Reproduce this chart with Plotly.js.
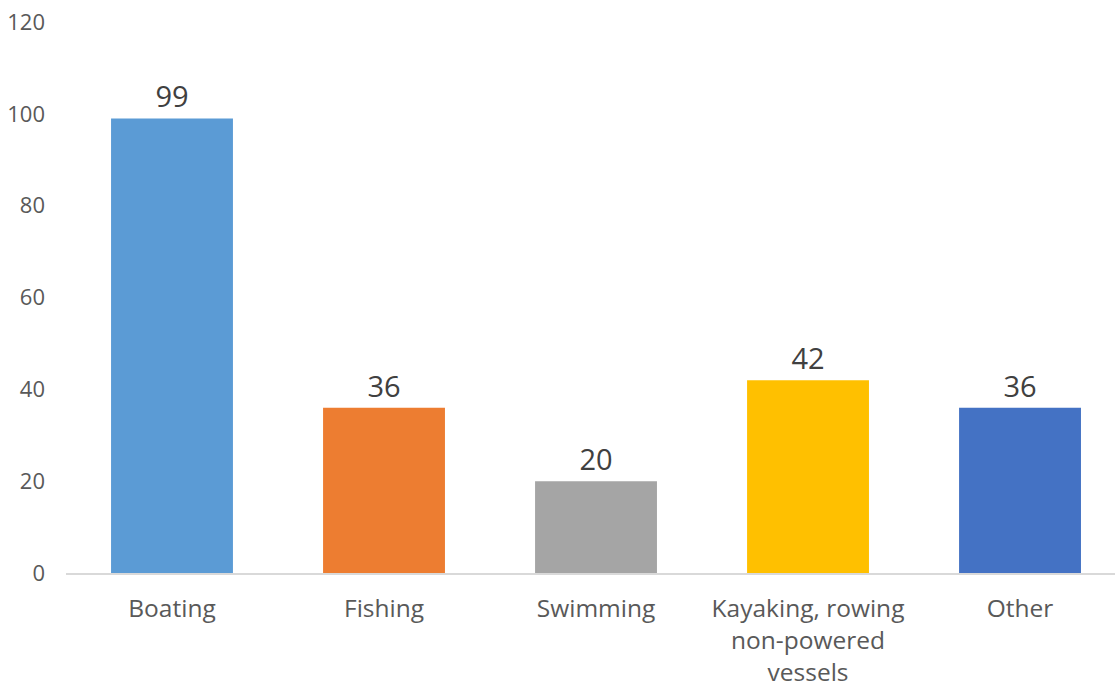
<!DOCTYPE html>
<html>
<head>
<meta charset="utf-8">
<script src="https://cdn.plot.ly/plotly-3.0.1.min.js"></script>
<style>html,body{margin:0;padding:0;background:#fff;overflow:hidden}</style>
</head>
<body>
<div id="chart" style="width:1115px;height:687px"></div>
<script>
const categories = ["Boating", "Fishing", "Swimming", "Kayaking, rowing<br>non-powered<br>vessels", "Other"];
const values = [99, 36, 20, 42, 36];
const colors = ["#5B9BD5", "#ED7D31", "#A5A5A5", "#FFC000", "#4472C4"];
const yTicks = [0, 20, 40, 60, 80, 100, 120];

const trace = {
  type: "bar",
  x: categories,
  y: values,
  marker: {color: colors},
  text: values.map(String),
  textposition: "outside",
  textfont: {family: "Open Sans", size: 29, color: "#404040"},
  cliponaxis: false,
  hoverinfo: "skip"
};

const layout = {
  width: 1115, height: 687,
  margin: {l: 66, r: 0, t: 22, b: 114},
  paper_bgcolor: "#fff", plot_bgcolor: "#fff",
  bargap: 0.425,
  showlegend: false,
  font: {family: "Open Sans", color: "#595959"},
  xaxis: {
    type: "category",
    range: [-0.5, 4.448],
    showline: true, linecolor: "#d9d9d9", linewidth: 1.5,
    showgrid: false, zeroline: false, ticks: "",
    tickfont: {family: "Open Sans", size: 24.5, color: "#595959"},
    ticklabelstandoff: 13
  },
  yaxis: {
    range: [0, 120],
    tickvals: yTicks,
    showgrid: false, zeroline: false, showline: false, ticks: "",
    tickfont: {family: "Open Sans", size: 22, color: "#595959"},
    ticklabelstandoff: 20
  }
};

Plotly.newPlot("chart", [trace], layout, {displayModeBar: false, staticPlot: true});
</script>
</body>
</html>
